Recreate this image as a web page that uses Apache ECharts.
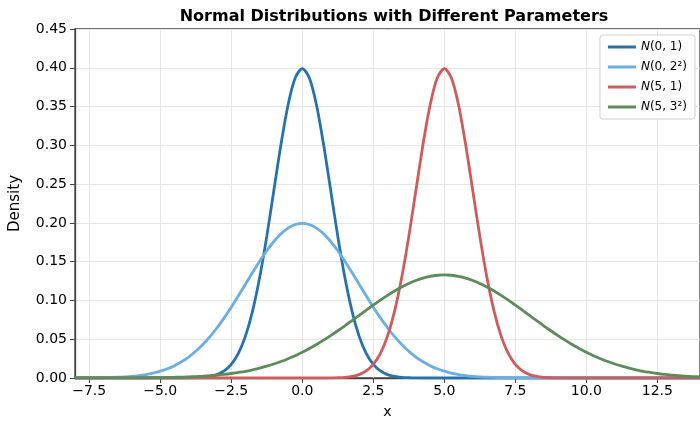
<!DOCTYPE html>
<html>
<head>
<meta charset="utf-8">
<script src="https://cdn.jsdelivr.net/npm/echarts@6/dist/echarts.min.js"></script>
<style>
  html, body { margin: 0; padding: 0; background: #fff; }
  #chart { width: 700px; height: 424px; }
</style>
</head>
<body>
<div id="chart"></div>
<script>
// x sample points, step 0.25 from -8 to 14 (89 points)
const xValues = [];
for (let i = 0; i <= 88; i++) xValues.push(-8 + i * 0.25);

// densities
const n01 = [
  0, 0, 0, 0, 0, 0, 0, 0, 0, 0, 0, 0, 0, 0, 0, 0,
  0.0001, 0.0004, 0.0009, 0.0020, 0.0044, 0.0091, 0.0175, 0.0317, 0.0540, 0.0863, 0.1295, 0.1826, 0.2420, 0.3011, 0.3521, 0.3867,
  0.3989,
  0.3867, 0.3521, 0.3011, 0.2420, 0.1826, 0.1295, 0.0863, 0.0540, 0.0317, 0.0175, 0.0091, 0.0044, 0.0020, 0.0009, 0.0004, 0.0001,
  0, 0, 0, 0, 0, 0, 0, 0, 0, 0, 0, 0, 0, 0, 0, 0, 0, 0, 0, 0,
  0, 0, 0, 0, 0, 0, 0, 0, 0, 0, 0, 0, 0, 0, 0, 0, 0, 0, 0, 0];
const n04 = [
  0.0001, 0.0001, 0.0002, 0.0003,
  0.0004, 0.0007, 0.0010, 0.0015, 0.0022, 0.0032, 0.0045, 0.0064, 0.0088, 0.0119, 0.0159, 0.0209, 0.0270, 0.0344,
  0.0431, 0.0533, 0.0648, 0.0775, 0.0913, 0.1060, 0.1210, 0.1360, 0.1506, 0.1641, 0.1760, 0.1860, 0.1933, 0.1979,
  0.1995,
  0.1979, 0.1933, 0.1860, 0.1760, 0.1641, 0.1506, 0.1360, 0.1210, 0.1060, 0.0913, 0.0775, 0.0648, 0.0533, 0.0431,
  0.0344, 0.0270, 0.0209, 0.0159, 0.0119, 0.0088, 0.0064, 0.0045, 0.0032, 0.0022, 0.0015, 0.0010, 0.0007, 0.0004,
  0.0003, 0.0002, 0.0001, 0.0001,
  0, 0, 0, 0, 0, 0, 0, 0, 0, 0, 0, 0, 0, 0, 0, 0, 0, 0, 0, 0, 0, 0, 0, 0];
const n51 = [
  0, 0, 0, 0, 0, 0, 0, 0, 0, 0, 0, 0, 0, 0, 0, 0, 0, 0,
  0, 0, 0, 0, 0, 0, 0, 0, 0, 0, 0, 0, 0, 0, 0, 0, 0, 0,
  0.0001, 0.0004, 0.0009, 0.0020, 0.0044, 0.0091, 0.0175, 0.0317, 0.0540, 0.0863, 0.1295, 0.1826, 0.2420, 0.3011, 0.3521, 0.3867,
  0.3989,
  0.3867, 0.3521, 0.3011, 0.2420, 0.1826, 0.1295, 0.0863, 0.0540, 0.0317, 0.0175, 0.0091, 0.0044, 0.0020, 0.0009, 0.0004, 0.0001,
  0, 0, 0, 0, 0, 0, 0, 0, 0, 0, 0, 0, 0, 0, 0, 0, 0, 0, 0, 0];
const n59 = [
  0, 0, 0, 0, 0, 0.0001, 0.0001, 0.0001,
  0.0002, 0.0002, 0.0003, 0.0004, 0.0005, 0.0007, 0.0009, 0.0011,
  0.0015, 0.0019, 0.0024, 0.0030, 0.0038, 0.0047, 0.0058, 0.0072, 0.0087, 0.0106, 0.0127, 0.0152, 0.0180, 0.0212,
  0.0248, 0.0288, 0.0332, 0.0380, 0.0432, 0.0488, 0.0547, 0.0609, 0.0673, 0.0740, 0.0807, 0.0874, 0.0940, 0.1004,
  0.1065, 0.1122, 0.1174, 0.1219, 0.1258, 0.1289, 0.1311, 0.1325,
  0.1330,
  0.1325, 0.1311, 0.1289, 0.1258, 0.1219, 0.1174, 0.1122, 0.1065, 0.1004, 0.0940, 0.0874, 0.0807, 0.0740, 0.0673,
  0.0609, 0.0547, 0.0488, 0.0432, 0.0380, 0.0332, 0.0288, 0.0248, 0.0212, 0.0180, 0.0152, 0.0127, 0.0106, 0.0087,
  0.0072, 0.0058, 0.0047, 0.0038, 0.0030, 0.0024, 0.0019, 0.0015];

const seriesNames = ["N(0, 1)", "N(0, 2²)", "N(5, 1)", "N(5, 3²)"];
const legendLabels = ["{i|N}(0, 1)", "{i|N}(0, 2²)", "{i|N}(5, 1)", "{i|N}(5, 3²)"];
const colors = ["#2672b0", "#6aaee8", "#d15b5b", "#5b8c5a"];
const xTicks = [-7.5, -5, -2.5, 0, 2.5, 5, 7.5, 10, 12.5];

const chart = echarts.init(document.getElementById("chart"));

const allData = [n01, n04, n51, n59];
const series = allData.map((arr, k) => ({
  name: seriesNames[k],
  type: "line",
  data: arr.map((y, i) => [xValues[i], y]),
  showSymbol: false,
  smooth: 0.3,
  lineStyle: { width: 2.8, color: colors[k] },
  itemStyle: { color: colors[k] },
  z: 3 + k,
}));

const fmtMinus = (v) => String(v).replace("-", "\u2212");

chart.setOption({
  animation: false,
  title: {
    text: "Normal Distributions with Different Parameters",
    left: 389,
    top: 4,
    textAlign: "center",
    textStyle: { fontFamily: "DejaVu Sans", fontSize: 16, fontWeight: "bold", color: "#000" },
  },
  legend: {
    orient: "vertical",
    right: 5,
    top: 35,
    data: seriesNames,
    icon: "rect",
    itemWidth: 28,
    itemHeight: 3,
    itemGap: 8,
    padding: [6, 8, 6, 8],
    backgroundColor: "#fff",
    borderColor: "#d0d0d0",
    borderWidth: 1,
    borderRadius: 3,
    formatter: (name) => legendLabels[seriesNames.indexOf(name)],
    textStyle: {
      fontFamily: "DejaVu Sans",
      fontSize: 12,
      color: "#000",
      rich: { i: { fontStyle: "italic", fontFamily: "DejaVu Sans", fontSize: 12 } },
    },
  },
  grid: { left: 75, right: -3, top: 29, bottom: 44, show: true, borderColor: "#444", borderWidth: 1.3, backgroundColor: "transparent" },
  xAxis: {
    type: "value",
    min: -8,
    max: 14,
    name: "x",
    nameLocation: "middle",
    nameGap: 27,
    nameTextStyle: { fontFamily: "DejaVu Sans", fontSize: 14, color: "#000" },
    axisLine: { show: true, onZero: false, lineStyle: { color: "#444", width: 1.3 } },
    axisTick: { show: true, length: 5, lineStyle: { color: "#444" }, customValues: xTicks },
    axisLabel: {
      customValues: xTicks,
      fontFamily: "DejaVu Sans",
      fontSize: 14,
      color: "#000",
      margin: 6,
      formatter: (v) => fmtMinus(v.toFixed(1)),
    },
    splitLine: { show: true, lineStyle: { color: "#e6e6e6", width: 1 } },
  },
  yAxis: {
    type: "value",
    min: 0,
    max: 0.45,
    interval: 0.05,
    name: "Density",
    nameLocation: "middle",
    nameGap: 52,
    nameTextStyle: { fontFamily: "DejaVu Sans", fontSize: 15, color: "#000" },
    axisLine: { show: true, onZero: false, lineStyle: { color: "#444", width: 1.3 } },
    axisTick: { show: true, length: 5, lineStyle: { color: "#444" } },
    axisLabel: {
      fontFamily: "DejaVu Sans",
      fontSize: 14,
      color: "#000",
      margin: 8,
      formatter: (v) => v.toFixed(2),
    },
    splitLine: { show: true, lineStyle: { color: "#e6e6e6", width: 1 } },
  },
  series: series,
});
</script>
</body>
</html>
